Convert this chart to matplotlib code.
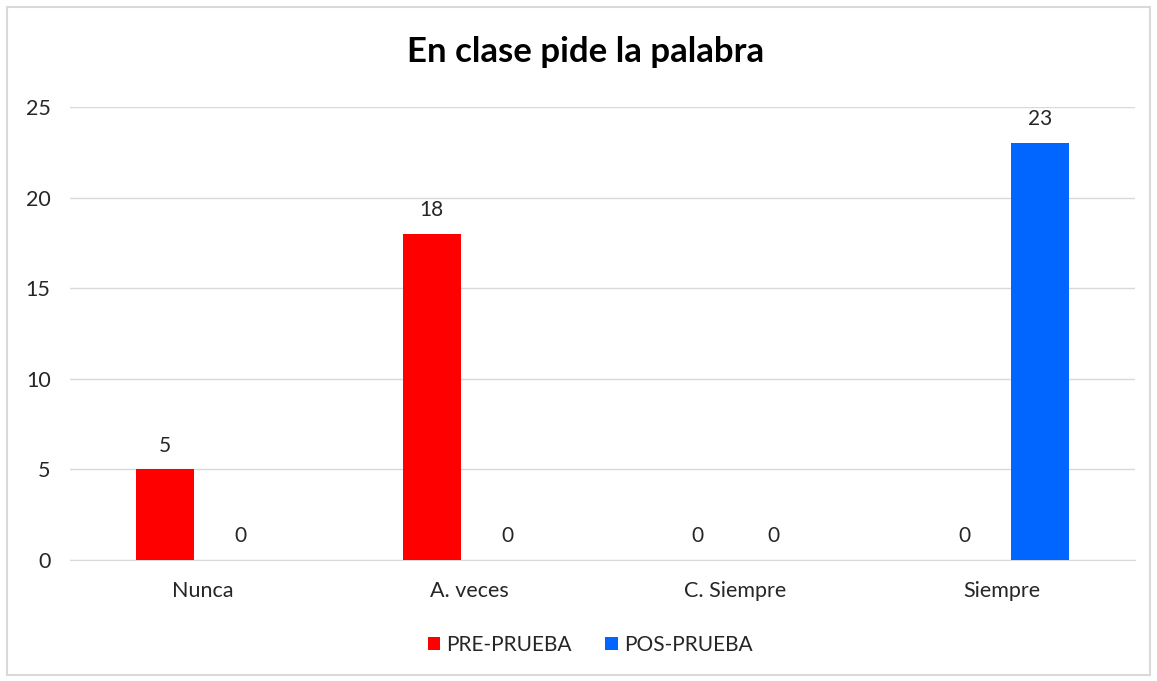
import matplotlib
matplotlib.use("Agg")
import matplotlib.pyplot as plt
import matplotlib.patches as mpatches
import numpy as np

categories = ["Nunca", "A. veces", "C. Siempre", "Siempre"]
pre_prueba = [5, 18, 0, 0]
pos_prueba = [0, 0, 0, 23]
series_names = ["PRE-PRUEBA", "POS-PRUEBA"]
title = "En clase pide la palabra"
yticks = [0, 5, 10, 15, 20, 25]

plt.rcParams['font.family'] = ['Lato', 'DejaVu Sans']

W, H = 1157, 681
fig = plt.figure(figsize=(W/100, H/100), dpi=100)
fig.patch.set_facecolor("white")
fig.add_artist(mpatches.Rectangle((7/W, 1-675/H), (1150-7)/W, (675-7)/H,
                                  transform=fig.transFigure, fill=False,
                                  edgecolor="#d9d9d9", linewidth=1.5))

ax = fig.add_axes([70/W, 1-560/H, (1135-70)/W, (560-107)/H])
x = np.arange(len(categories))
w = 0.218
off = 0.142
b1 = ax.bar(x - off, pre_prueba, w, color="#FF0000", label=series_names[0], zorder=3)
b2 = ax.bar(x + off, pos_prueba, w, color="#0066FF", label=series_names[1], zorder=3)

for bars, vals in ((b1, pre_prueba), (b2, pos_prueba)):
    for r, v in zip(bars, vals):
        ax.annotate(str(v), (r.get_x() + r.get_width()/2, v), xytext=(0, 10),
                    textcoords="offset points", ha="center", va="bottom",
                    fontsize=15, color="#262626")

ax.set_xlim(-0.5, len(categories) - 0.5)
ax.set_ylim(0, 25)
ax.set_yticks(yticks)
ax.set_xticks(x)
ax.set_xticklabels(categories)
ax.grid(axis="y", color="#d9d9d9", linewidth=1, zorder=0)
for s in ["top", "right", "left"]:
    ax.spines[s].set_visible(False)
ax.spines["bottom"].set_color("#d9d9d9")
ax.tick_params(axis="both", length=0, labelsize=15.5, colors="#262626")
ax.tick_params(axis="y", pad=14)
ax.tick_params(axis="x", pad=15)

fig.text(586/W, 1-52/H, title, ha="center", va="center", fontsize=25,
         fontweight="bold", color="black")

leg = fig.legend(handles=[b1, b2], loc="center", bbox_to_anchor=(590/W, 1-645/H),
                 ncol=2, frameon=False, fontsize=15, handlelength=0.6,
                 handleheight=0.6, columnspacing=1.6, handletextpad=0.3)
for t in leg.get_texts():
    t.set_color("#262626")

fig.savefig("out.png", dpi=100)
